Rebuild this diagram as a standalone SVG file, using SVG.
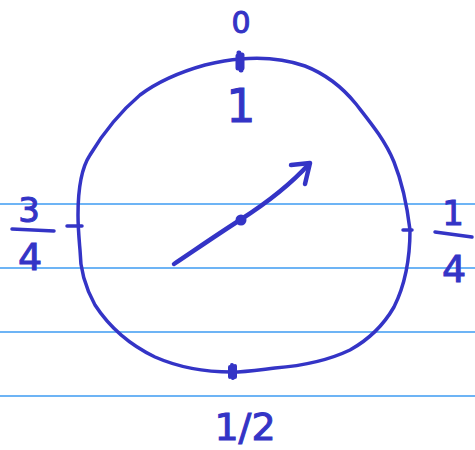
<svg xmlns="http://www.w3.org/2000/svg" width="475" height="450" viewBox="0 0 475 450">
<style>
.ink{fill:none;stroke:#3434c6;stroke-width:3.5;stroke-linecap:round;stroke-linejoin:round}
.rule{stroke:#3d9bf2;stroke-width:1.3}
.lbl{fill:#3434c6;font-family:"DejaVu Sans","Liberation Sans",sans-serif;text-anchor:middle;stroke:#3434c6;stroke-width:1}
</style>
<rect width="475" height="450" fill="#ffffff"/>
<g id="rules">
<line class="rule" x1="0" y1="204" x2="475" y2="204"/>
<line class="rule" x1="0" y1="268" x2="475" y2="268"/>
<line class="rule" x1="0" y1="332" x2="475" y2="332"/>
<line class="rule" x1="0" y1="396" x2="475" y2="396"/>
</g>
<g id="circle">
<path class="ink" d="M240,59 C262,57 285,59 305,66 C328,75 343,88 356,104 C370,122 385,140 394,162 C402,182 407,205 410,230 C410,262 405,285 394,307 C383,326 368,340 350,350 C325,362 300,366 275,368 C258,370 245,372 232,372 C205,372 180,368 155,357 C130,345 110,328 95,305 C84,285 80,268 80,250 C79,238 78,228 78,215 C78,195 80,170 90,155 C105,130 120,112 140,95 C160,80 180,72 205,65 C218,62 228,60 240,59 Z"/>
<path class="ink" d="M239,53 L241,70 M238,56 L238,68 M242,55 L242,68" style="stroke-width:5"/>
<path class="ink" d="M403,230 L412,230"/>
<path class="ink" d="M67,226 L82,226"/>
<path class="ink" d="M232,365 L233,378 M230,367 L230,377 M235,366 L235,377" style="stroke-width:4"/>
</g>
<g id="arrow">
<path class="ink" style="stroke-width:4.5" d="M174,264 C195,250 215,236 240,220 C265,204 290,185 309,164"/>
<path class="ink" style="stroke-width:4.5" d="M291,165 L310,163 L305,184"/>
<circle cx="241" cy="220" r="5.5" fill="#3434c6"/>
</g>
<g id="labels">
<text class="lbl" x="241" y="33" font-size="30">0</text>
<text class="lbl" x="241" y="122" font-size="46">1</text>
<text class="lbl" x="29" y="222" font-size="34">3</text>
<path class="ink" d="M12,229 L54,231"/>
<text class="lbl" x="30" y="270" font-size="38">4</text>
<text class="lbl" x="453" y="225" font-size="34">1</text>
<path class="ink" d="M435,232 L472,237"/>
<text class="lbl" x="454" y="282" font-size="38">4</text>
<text class="lbl" x="245" y="440" font-size="38">1/2</text>
</g>
</svg>
